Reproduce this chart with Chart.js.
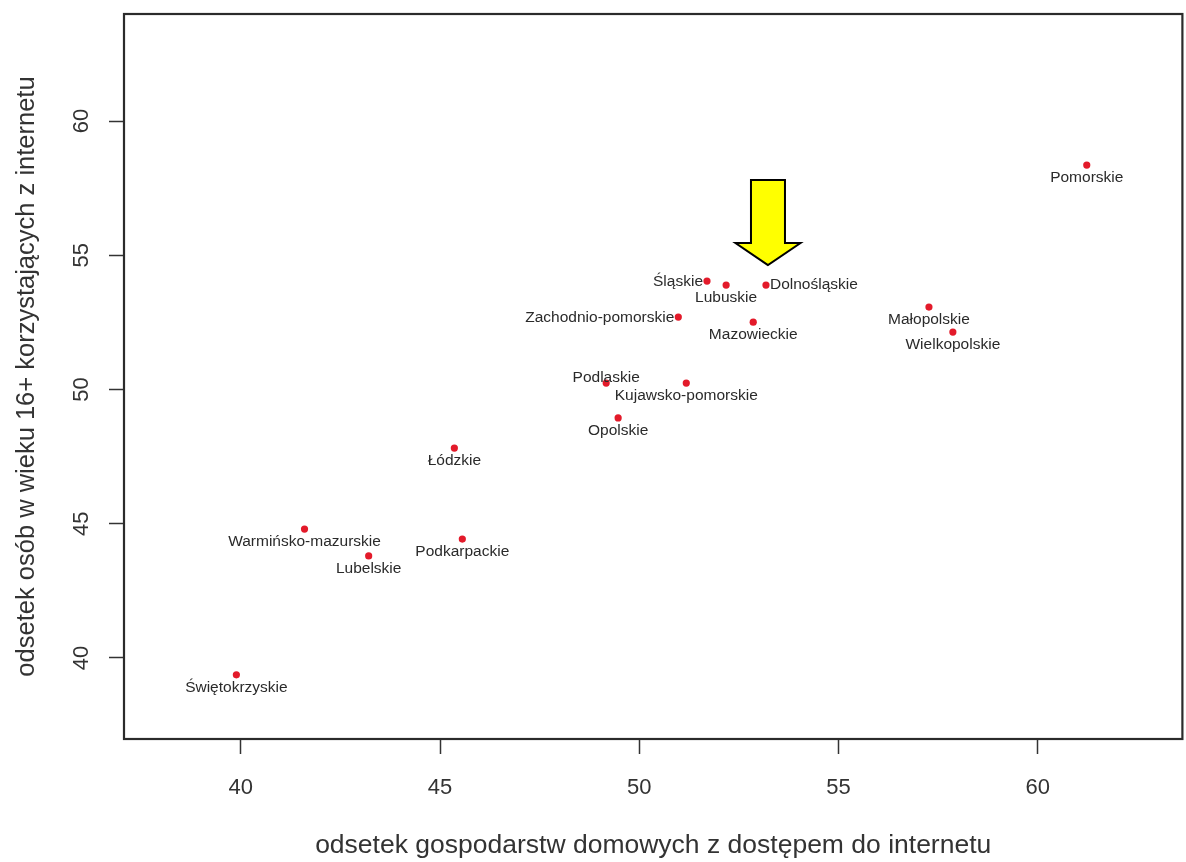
<!DOCTYPE html>
<html lang="pl">
<head>
<meta charset="utf-8">
<title>Internet w województwach</title>
<script src="https://cdn.jsdelivr.net/npm/chart.js@4"></script>
<style>
    html, body { margin: 0; padding: 0; background: #ffffff; }
    #wrap { width: 1186px; height: 862px; position: relative; }
</style>
</head>
<body>
<div id="wrap"><canvas id="internetChart"></canvas></div>
<script>
// Dane
const wojewodztwa = [
    'Świętokrzyskie', 'Warmińsko-mazurskie', 'Lubelskie', 'Łódzkie', 'Podkarpackie',
    'Podlaskie', 'Opolskie', 'Kujawsko-pomorskie', 'Zachodnio-pomorskie', 'Śląskie',
    'Lubuskie', 'Dolnośląskie', 'Mazowieckie', 'Małopolskie', 'Wielkopolskie', 'Pomorskie'
];
// odsetek gospodarstw domowych z dostępem do internetu
const gospodarstwa = [39.89, 41.60, 43.21, 45.36, 45.56, 49.17, 49.47, 51.18, 50.98, 51.70, 52.18, 53.18, 52.86, 57.27, 57.87, 61.23];
// odsetek osób 16+ korzystających z internetu
const osoby = [39.37, 44.80, 43.80, 47.82, 44.43, 50.24, 48.94, 50.24, 52.70, 54.04, 53.89, 53.89, 52.51, 53.07, 52.14, 58.36];

const xTicks = [40, 45, 50, 55, 60];
const yTicks = [40, 45, 50, 55, 60];

// gdzie napis wzgledem punktu (jak pos w R)
const labelPos = ['below', 'below', 'below', 'below', 'below', 'over', 'below', 'below', 'left', 'left',
    'below', 'right', 'below', 'below', 'below', 'below'];

const wyroznione = 'Dolnośląskie'; // strzalka nad tym punktem

const TXT = '#333333';
const FONT = "'Liberation Sans', Arial, sans-serif";

/**
 * Plugin: ramka wokol obszaru wykresu
 */
const ramkaPlugin = {
    id: 'ramka',
    afterDraw(chart) {
        const { ctx, chartArea } = chart;
        ctx.save();
        ctx.strokeStyle = '#2b2b2b';
        ctx.lineWidth = 2.2;
        ctx.strokeRect(chartArea.left, chartArea.top, chartArea.right - chartArea.left, chartArea.bottom - chartArea.top);
        ctx.restore();
    }
};

/**
 * Plugin: podpisy punktow (nazwy wojewodztw)
 */
const podpisyPlugin = {
    id: 'podpisy',
    afterDatasetsDraw(chart) {
        const ctx = chart.ctx;
        const meta = chart.getDatasetMeta(0);
        ctx.save();
        ctx.font = '15.5px ' + FONT;
        ctx.fillStyle = '#2a2a2a';
        ctx.textBaseline = 'middle';
        meta.data.forEach((pt, i) => {
            const pos = labelPos[i];
            let x = pt.x, y = pt.y;
            if (pos === 'left') {
                ctx.textAlign = 'right';
                x -= 4;
                y += 1;
            } else if (pos === 'right') {
                ctx.textAlign = 'left';
                x += 4;
            } else if (pos === 'over') {
                ctx.textAlign = 'center';
                y -= 5;
            } else {
                ctx.textAlign = 'center';
                y += 12.5;
            }
            ctx.fillText(wojewodztwa[i], x, y);
        });
        ctx.restore();
    }
};

/**
 * Plugin: zolta strzalka nad wyroznionym punktem
 */
const strzalkaPlugin = {
    id: 'strzalka',
    afterDraw(chart) {
        const idx = wojewodztwa.indexOf(wyroznione);
        if (idx < 0) return;
        const pt = chart.getDatasetMeta(0).data[idx];
        const ctx = chart.ctx;
        const tipX = pt.x + 2;
        const tipY = pt.y - 20;
        const headH = 22, headW = 32.5, shaftW = 17, shaftH = 63;
        ctx.save();
        ctx.beginPath();
        ctx.moveTo(tipX, tipY);
        ctx.lineTo(tipX - headW, tipY - headH);
        ctx.lineTo(tipX - shaftW, tipY - headH);
        ctx.lineTo(tipX - shaftW, tipY - headH - shaftH);
        ctx.lineTo(tipX + shaftW, tipY - headH - shaftH);
        ctx.lineTo(tipX + shaftW, tipY - headH);
        ctx.lineTo(tipX + headW, tipY - headH);
        ctx.closePath();
        ctx.fillStyle = '#ffff00';
        ctx.fill();
        ctx.strokeStyle = '#000000';
        ctx.lineWidth = 2;
        ctx.lineJoin = 'miter';
        ctx.stroke();
        ctx.restore();
    }
};

function renderChart() {
    const points = gospodarstwa.map((x, i) => ({ x: x, y: osoby[i] }));
    const ctx = document.getElementById('internetChart').getContext('2d');

    window.internetChartInstance = new Chart(ctx, {
        type: 'scatter',
        data: {
            datasets: [{
                label: 'województwa',
                data: points,
                backgroundColor: '#e31a2a',
                borderWidth: 0,
                pointRadius: 3.6,
                pointHoverRadius: 3.6
            }]
        },
        options: {
            responsive: true,
            maintainAspectRatio: false,
            animation: false,
            layout: { padding: { top: 14, right: 2, left: 0, bottom: 0 } },
            plugins: {
                legend: { display: false },
                tooltip: { enabled: false }
            },
            scales: {
                x: {
                    type: 'linear',
                    min: 37.07,
                    max: 63.63,
                    afterBuildTicks: (axis) => { axis.ticks = xTicks.map(v => ({ value: v })); },
                    afterFit: (axis) => {
                        axis.height = 123;
                        axis.paddingLeft = 0;
                        axis.paddingRight = 0;
                    },
                    border: { display: false },
                    grid: { drawOnChartArea: false, drawTicks: true, tickLength: 15, tickColor: '#333', tickWidth: 1.5 },
                    ticks: { color: TXT, font: { family: FONT, size: 22 }, padding: 21 },
                    title: {
                        display: true,
                        text: 'odsetek gospodarstw domowych z dostępem do internetu',
                        color: TXT,
                        font: { family: FONT, size: 26.5 },
                        padding: { top: 0, bottom: 0 }
                    }
                },
                y: {
                    type: 'linear',
                    min: 36.98,
                    max: 63.99,
                    afterBuildTicks: (axis) => { axis.ticks = yTicks.map(v => ({ value: v })); },
                    afterFit: (axis) => {
                        axis.width = 124;
                        axis.paddingTop = 0;
                        axis.paddingBottom = 0;
                    },
                    border: { display: false },
                    grid: { drawOnChartArea: false, drawTicks: true, tickLength: 15, tickColor: '#333', tickWidth: 1.5 },
                    ticks: { color: TXT, font: { family: FONT, size: 22 }, padding: 15, minRotation: 90, maxRotation: 90, crossAlign: 'center' },
                    title: {
                        display: true,
                        text: 'odsetek osób w wieku 16+ korzystających z internetu',
                        color: TXT,
                        font: { family: FONT, size: 25.5 },
                        padding: { top: 12, bottom: 0 }
                    }
                }
            }
        },
        plugins: [ramkaPlugin, podpisyPlugin, strzalkaPlugin]
    });
    console.log('Wykres narysowany');
}

document.addEventListener('DOMContentLoaded', renderChart);
</script>
</body>
</html>
